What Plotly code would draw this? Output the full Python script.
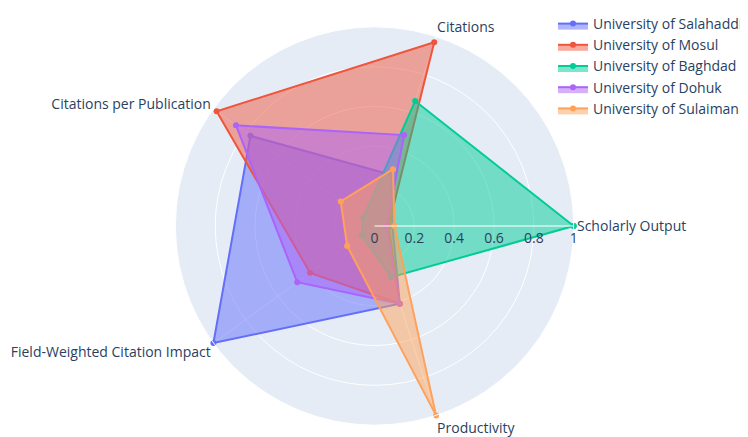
import plotly.graph_objects as go

categories = ["Scholarly Output", "Citations", "Citations per Publication",
              "Field-Weighted Citation Impact", "Productivity"]

universities = ["University of Salahaddin", "University of Mosul", "University of Baghdad",
                "University of Dohuk", "University of Sulaimani"]

salahaddin = [0.09, 0.27, 0.77, 1.00, 0.41]
mosul = [0.07, 0.97, 0.98, 0.40, 0.41]
baghdad = [1.00, 0.66, 0.07, 0.08, 0.27]
dohuk = [0.06, 0.48, 0.86, 0.48, 0.41]
sulaimani = [0.10, 0.30, 0.21, 0.17, 1.00]

series = [salahaddin, mosul, baghdad, dohuk, sulaimani]
colors = ["#636efa", "#EF553B", "#00cc96", "#ab63fa", "#FFA15A"]

fig = go.Figure()
for name, vals, col in zip(universities, series, colors):
    fig.add_trace(go.Scatterpolar(
        r=vals + vals[:1],
        theta=categories + categories[:1],
        name=name,
        mode="lines+markers",
        fill="toself",
        line=dict(color=col, width=2),
        marker=dict(size=6, color=col),
    ))

W, H = 748, 437
fig.update_layout(
    width=W, height=H,
    template="plotly",
    margin=dict(l=0, r=0, t=0, b=0),
    font=dict(family="Open Sans", size=14, color="#2a3f5f"),
    polar=dict(
        domain=dict(x=[168.5 / W, 569.5 / W], y=[18.5 / H, 419.5 / H]),
        bgcolor="#E5ECF6",
        angularaxis=dict(rotation=0, direction="counterclockwise",
                         gridcolor="white", linecolor="white"),
        radialaxis=dict(range=[0, 1], tickvals=[0, 0.2, 0.4, 0.6, 0.8, 1],
                        ticktext=["0", "0.2", "0.4", "0.6", "0.8", "1"],
                        gridcolor="white", linecolor="white", showline=True,
                        angle=0, tickangle=0),
    ),
    legend=dict(x=549 / W, y=1, xanchor="left", yanchor="top",
                font=dict(size=14), bgcolor="rgba(0,0,0,0)"),
)

fig.write_html("out.html")
